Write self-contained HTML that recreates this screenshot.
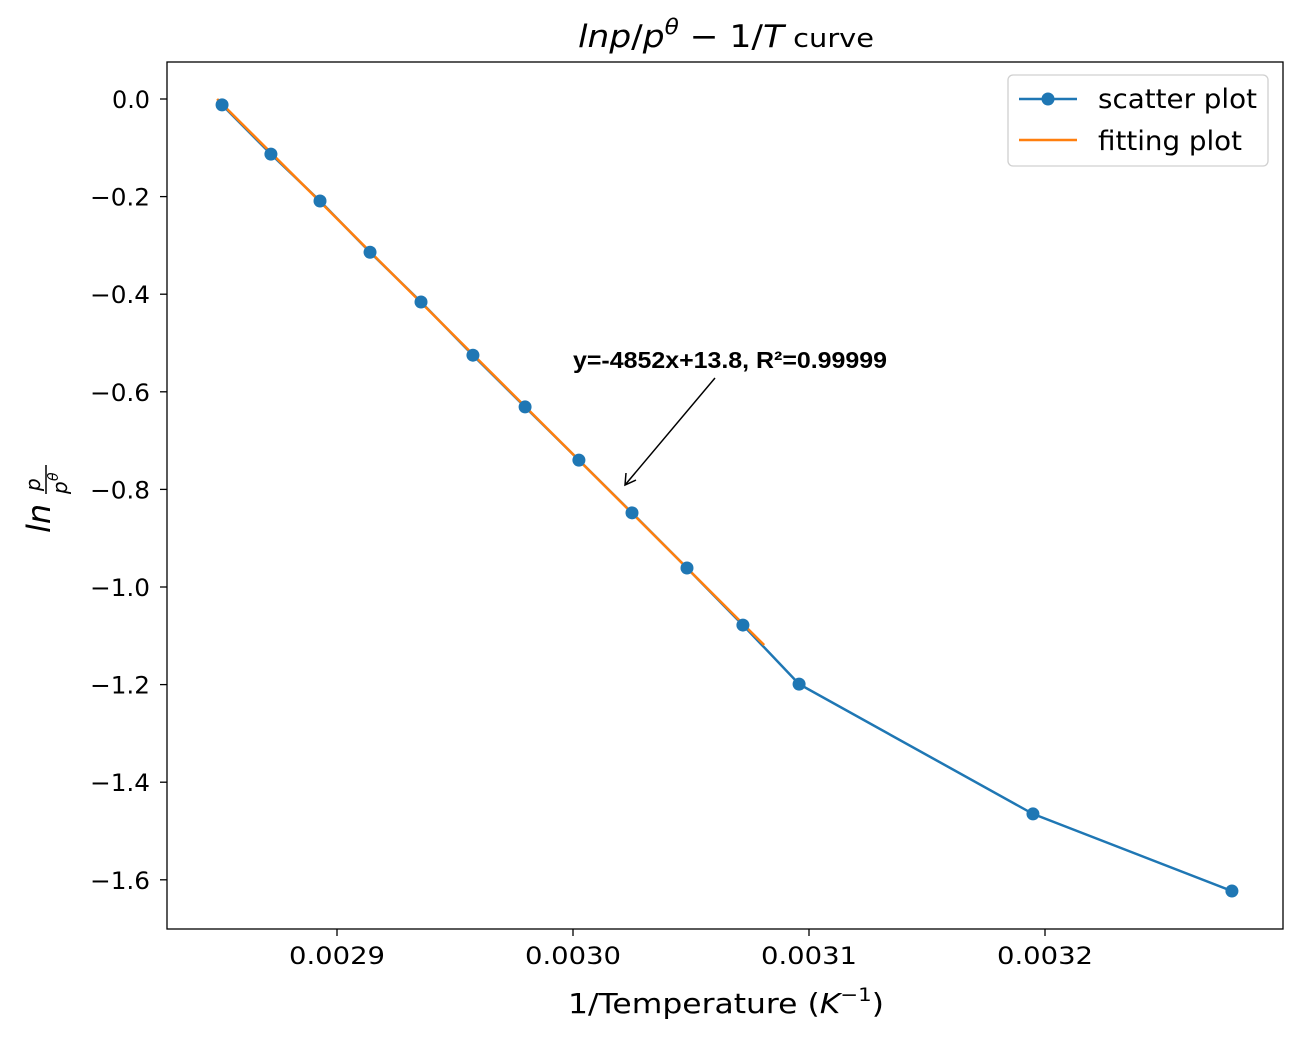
<!DOCTYPE html>
<html><head><meta charset="utf-8"><style>
body{margin:0;background:#fff;}
svg text{font-family:"DejaVu Sans","Liberation Sans",sans-serif;}
</style></head><body>
<svg id="chart" width="1300" height="1037" xmlns="http://www.w3.org/2000/svg">
<rect width="1300" height="1037" fill="#fff"/>
<g id="plot"></g>
<text x="573" y="368" font-size="23" font-weight="bold" style="font-family:'Liberation Sans Narrow','Liberation Sans',sans-serif" textLength="314" lengthAdjust="spacingAndGlyphs">y=-4852x+13.8, R²=0.99999</text>
<text x="578" y="47" font-size="31" textLength="296" lengthAdjust="spacingAndGlyphs"><tspan font-style="italic">lnp</tspan>/<tspan font-style="italic">p</tspan><tspan font-style="italic" font-size="21" dy="-13">θ</tspan><tspan dy="13"> − 1/</tspan><tspan font-style="italic">T</tspan><tspan font-size="26"> curve</tspan></text>
<text x="568" y="1013" font-size="28" textLength="316" lengthAdjust="spacingAndGlyphs">1/Temperature (<tspan font-style="italic">K</tspan><tspan font-size="19" dy="-12">−1</tspan><tspan dy="12">)</tspan></text>
<g transform="translate(50,495) rotate(-90)">
<text x="-38" y="0" font-size="32" font-style="italic" text-anchor="start">ln</text>
<text x="4" y="-10" font-size="20" font-style="italic">p</text>
<line x1="1" x2="30" y1="-4" y2="-4" stroke="#000" stroke-width="1.5"/>
<text x="1" y="17" font-size="20" font-style="italic">p</text>
<text x="14" y="8" font-size="14" font-style="italic">θ</text>
</g>
<g>
<rect x="1008" y="75" width="260" height="91" rx="5" fill="#fff" stroke="#d0d0d0" stroke-width="1.3"/>
<line x1="1019" x2="1077" y1="99" y2="99" stroke="#1f77b4" stroke-width="2.5"/>
<circle cx="1048" cy="99" r="6.5" fill="#1f77b4"/>
<text x="1098" y="108" font-size="27" textLength="159" lengthAdjust="spacingAndGlyphs">scatter plot</text>
<line x1="1019" x2="1077" y1="140" y2="140" stroke="#ff7f0e" stroke-width="2.5"/>
<text x="1098" y="150" font-size="27" textLength="144" lengthAdjust="spacingAndGlyphs">fitting plot</text>
</g>
</svg>
<script>
const xData=[0.0028513,0.0028720,0.0028928,0.0029140,0.0029356,0.0029576,0.0029797,0.0030025,0.0030250,0.0030483,0.0030720,0.0030958,0.0031949,0.0032792];
const yData=[-0.012,-0.113,-0.209,-0.314,-0.416,-0.525,-0.631,-0.740,-0.848,-0.961,-1.078,-1.199,-1.465,-1.623];
const fitX=[0.0028492,0.0030810];
const fitY=[0.0,-1.119];
const xTicks=[0.0029,0.0030,0.0031,0.0032];
const xTickLabels=["0.0029","0.0030","0.0031","0.0032"];
const yTicks=[0,-0.2,-0.4,-0.6,-0.8,-1.0,-1.2,-1.4,-1.6];
const yTickLabels=["0.0","\u22120.2","\u22120.4","\u22120.6","\u22120.8","\u22121.0","\u22121.2","\u22121.4","\u22121.6"];
const L=167,R=1283,T=62,B=929;
const sx=v=>337+(v-0.0029)/0.0001*236;
const sy=v=>99-v*488;
const NS="http://www.w3.org/2000/svg";
const g=document.getElementById('plot');
function mk(tag,attrs,parent){const e=document.createElementNS(NS,tag);for(const k in attrs)e.setAttribute(k,attrs[k]);(parent||g).appendChild(e);return e;}
const frame=mk('rect',{x:L,y:T,width:R-L,height:B-T,fill:'none',stroke:'#000','stroke-width':1.3});


xTicks.forEach((t,i)=>{
  const x=sx(t);
  const tk=mk('line',{x1:x,x2:x,y1:B,y2:B+7,stroke:'#000','stroke-width':1.3});
  
  
  const tx=mk('text',{x:x-48,y:B+35,'font-size':24,textLength:96,lengthAdjust:'spacingAndGlyphs'});
  tx.textContent=xTickLabels[i];
  
  
});
yTicks.forEach((t,i)=>{
  const y=sy(t);
  const tk=mk('line',{x1:L-7,x2:L,y1:y,y2:y,stroke:'#000','stroke-width':1.3});
  
  
  const w=yTickLabels[i].length>3?60:38;
  const tx=mk('text',{x:L-17-w,y:y+9,'font-size':24,textLength:w,lengthAdjust:'spacingAndGlyphs'});
  tx.textContent=yTickLabels[i];
  
  
});
const sp=mk('polyline',{points:xData.map((v,i)=>sx(v)+','+sy(yData[i])).join(' '),fill:'none',stroke:'#1f77b4','stroke-width':2.5});


const fl=mk('polyline',{points:fitX.map((v,i)=>sx(v)+','+sy(fitY[i])).join(' '),fill:'none',stroke:'#ff7f0e','stroke-width':2.5});


xData.forEach((v,i)=>{
  const c=mk('circle',{cx:sx(v),cy:sy(yData[i]),r:6.5,fill:'#1f77b4'});
  
  
});
const ar=mk('line',{x1:715,y1:378,x2:625,y2:485,stroke:'#000','stroke-width':1.5});


const ah=mk('polyline',{points:'626,473 625,485 636,480',fill:'none',stroke:'#000','stroke-width':1.5});


</script>
</body></html>
